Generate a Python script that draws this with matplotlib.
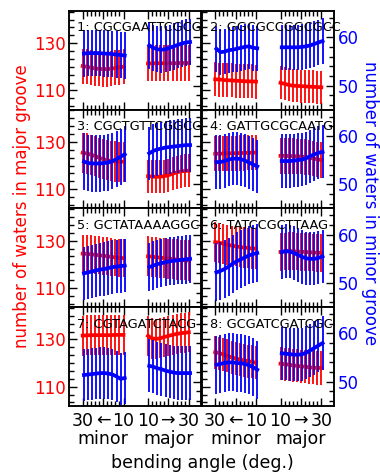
import matplotlib
matplotlib.use("Agg")
import matplotlib.pyplot as plt
from matplotlib.ticker import MultipleLocator, FixedLocator
import numpy as np

plt.rcParams['font.family'] = ['DejaVu Sans']

angles_minor = [30, 28, 26, 24, 22, 20, 18, 16, 14, 12, 10]
angles_major = [10, 12, 14, 16, 18, 20, 22, 24, 26, 28, 30]

labels = ["1: CGCGAATTCGCG", "2: GGCGCCGGCGCC", "3: CGCTGTTCGGCG", "4: GATTGCGCAATG",
          "5: GCTATAAAAGGC", "6: TATCCGCTTAAG", "7: CGTAGATCTACG", "8: GCGATCGATCGC"]

# waters in major groove (red), minor-groove bending segment (30 -> 10)
red_minor = [
    [120.3, 120.0, 119.6, 119.3, 119.1, 119.0, 119.0, 119.2, 119.5, 119.8, 120.0],
    [114.7, 114.6, 114.4, 114.3, 114.2, 114.1, 114.0, 113.9, 113.8, 113.8, 113.7],
    [125.4, 125.1, 124.6, 124.0, 123.3, 122.7, 122.2, 121.9, 121.7, 121.6, 121.6],
    [125.0, 125.0, 125.1, 125.1, 125.2, 125.2, 125.3, 125.3, 125.4, 125.4, 125.5],
    [124.5, 124.4, 124.2, 124.0, 123.8, 123.6, 123.4, 123.1, 122.9, 122.7, 122.6],
    [129.4, 129.1, 128.7, 128.3, 127.9, 127.6, 127.3, 127.1, 126.9, 126.7, 126.6],
    [131.6, 131.7, 131.8, 131.8, 131.8, 131.8, 131.8, 131.8, 131.9, 131.9, 131.9],
    [124.6, 124.2, 123.6, 123.0, 122.4, 121.9, 121.5, 121.1, 120.8, 120.5, 120.1],
]
# waters in major groove (red), major-groove bending segment (10 -> 30)
red_major = [
    [121.4, 121.4, 121.5, 121.5, 121.5, 121.5, 121.5, 121.5, 121.6, 121.6, 121.6],
    [113.2, 112.8, 112.3, 112.0, 111.9, 111.8, 111.7, 111.6, 111.5, 111.4, 111.3],
    [115.5, 115.3, 115.2, 115.3, 115.5, 115.9, 116.5, 117.1, 117.5, 117.7, 117.8],
    [124.1, 124.1, 124.0, 124.0, 123.9, 123.8, 123.6, 123.3, 123.0, 122.6, 122.3],
    [123.4, 123.2, 123.0, 122.8, 122.6, 122.4, 122.2, 122.0, 121.8, 121.7, 121.6],
    [125.2, 125.4, 125.6, 125.5, 125.4, 125.3, 125.2, 125.1, 125.0, 124.9, 124.8],
    [131.5, 130.4, 130.2, 130.5, 131.0, 131.5, 131.9, 132.3, 132.6, 132.8, 133.0],
    [119.7, 119.5, 119.3, 119.0, 118.8, 118.6, 118.4, 118.2, 118.0, 117.9, 117.9],
]
# waters in minor groove (blue)
blue_minor = [
    [56.6, 56.7, 56.7, 56.7, 56.7, 56.6, 56.6, 56.5, 56.4, 56.3, 56.2],
    [57.6, 56.9, 57.0, 57.3, 57.4, 57.6, 57.8, 58.0, 58.1, 57.8, 57.7],
    [54.7, 54.4, 54.3, 54.3, 54.3, 54.4, 54.5, 54.8, 55.2, 55.7, 56.2],
    [54.6, 54.6, 54.8, 55.1, 55.3, 55.3, 55.2, 54.9, 54.5, 54.1, 53.7],
    [52.0, 52.2, 52.4, 52.6, 52.8, 52.9, 53.1, 53.3, 53.4, 53.5, 53.6],
    [52.2, 52.5, 52.9, 53.4, 54.0, 54.5, 54.9, 55.3, 55.7, 56.0, 56.2],
    [51.4, 51.5, 51.6, 51.7, 51.8, 51.8, 51.7, 51.5, 51.1, 50.6, 50.8],
    [53.5, 53.7, 53.9, 54.0, 54.0, 53.9, 53.8, 53.7, 53.4, 53.0, 52.5],
]
blue_major = [
    [58.3, 57.8, 57.5, 57.4, 57.5, 57.8, 58.1, 58.4, 58.7, 58.9, 59.0],
    [57.9, 57.9, 57.9, 57.9, 57.9, 58.0, 58.1, 58.3, 58.6, 58.9, 59.2],
    [56.4, 56.9, 57.2, 57.4, 57.6, 57.7, 57.8, 57.9, 58.0, 58.1, 58.1],
    [54.8, 54.8, 54.8, 54.9, 55.0, 55.1, 55.4, 55.8, 56.2, 56.5, 56.7],
    [53.3, 53.6, 53.9, 54.1, 54.3, 54.5, 54.6, 54.7, 54.8, 54.9, 55.0],
    [56.4, 56.6, 56.5, 56.2, 55.8, 55.4, 55.1, 55.0, 55.0, 55.2, 55.5],
    [53.3, 53.1, 52.8, 52.6, 52.3, 52.1, 51.9, 51.8, 51.8, 51.8, 51.8],
    [55.9, 55.8, 55.7, 55.6, 55.6, 55.7, 56.0, 56.5, 57.0, 57.5, 58.0],
]
# standard deviations (minor segment, major segment)
red_err = [[7.4, 7.5], [7.2, 7.0], [8.5, 7.0], [7.5, 7.5], [8.0, 8.5], [8.5, 8.0], [8.5, 8.5], [7.0, 7.0]]
blue_err = [[4.8, 4.8], [4.7, 4.7], [5.8, 5.5], [5.5, 5.5], [5.5, 5.0], [6.0, 5.5], [5.3, 5.5], [6.0, 5.5]]

RED = '#ff0000'
BLUE = '#0000ff'

W, H = 380, 473
fig = plt.figure(figsize=(W / 100, H / 100), dpi=100)

left0, colw, top0, rowh = 69, 132.5, 11, 98.75

def pos_minor(a):
    return [30 - v for v in a]

def pos_major(a):
    return [32 + (v - 10) for v in a]

xm = pos_minor(angles_minor)
xM = pos_major(angles_major)
boff = 0.6

for i in range(8):
    r, c = divmod(i, 2)
    ax = fig.add_axes([(left0 + c * colw) / W, 1 - (top0 + (r + 1) * rowh) / H, colw / W, rowh / H])
    ax2 = ax.twinx()
    for seg_x, seg_y, e in ((xm, red_minor[i], red_err[i][0]), (xM, red_major[i], red_err[i][1])):
        ax.errorbar(seg_x, seg_y, yerr=e, fmt='-', color=RED, lw=2.7, elinewidth=1.3, capsize=0)
    for seg_x, seg_y, e in ((xm, blue_minor[i], blue_err[i][0]), (xM, blue_major[i], blue_err[i][1])):
        ax2.errorbar([v + boff for v in seg_x], seg_y, yerr=e, fmt='-', color=BLUE, lw=2.7, elinewidth=1.3, capsize=0)
    ax.set_xlim(-6.7, 58.2)
    ax.set_ylim(101.8, 143.6)
    ax2.set_ylim(45.0, 65.4)

    ax.xaxis.set_major_locator(FixedLocator([0, 10, 20, 32, 42, 52]))
    ax.xaxis.set_minor_locator(FixedLocator([2, 4, 6, 8, 12, 14, 16, 18, 34, 36, 38, 40, 44, 46, 48, 50]))
    ax.yaxis.set_major_locator(FixedLocator([110, 130]))
    ax.yaxis.set_minor_locator(MultipleLocator(20 / 6))
    ax2.yaxis.set_major_locator(FixedLocator([50, 60]))
    ax2.yaxis.set_minor_locator(MultipleLocator(2))

    ax.tick_params(axis='x', which='both', direction='in', top=True, bottom=True, labelbottom=(r == 3), labelsize=12.5, pad=4)
    ax.tick_params(axis='x', which='major', length=6, width=1)
    ax.tick_params(axis='x', which='minor', length=3.5, width=1)
    ax.tick_params(axis='y', which='both', direction='in', left=True, right=False, labelleft=(c == 0), labelcolor=RED, labelsize=12, pad=2)
    ax.tick_params(axis='y', which='major', length=6, width=1)
    ax.tick_params(axis='y', which='minor', length=3.5, width=1)
    ax2.tick_params(axis='y', which='both', direction='in', right=True, left=False, labelright=(c == 1), labelcolor=BLUE, labelsize=12, pad=3)
    ax2.tick_params(axis='y', which='major', length=6, width=1)
    ax2.tick_params(axis='y', which='minor', length=3.5, width=1)
    if r == 3:
        ax.set_xticklabels(['30', '\u2190', '10', '10', '\u2192', '30'])
        ax.text(10, -0.33, 'minor', transform=ax.get_xaxis_transform(), ha='center', va='center', fontsize=12.5)
        ax.text(42, -0.33, 'major', transform=ax.get_xaxis_transform(), ha='center', va='center', fontsize=12.5)
    for a in (ax, ax2):
        for s in a.spines.values():
            s.set_linewidth(1.1)
    ax2.text(0.062, 0.83, labels[i], transform=ax.transAxes, ha='left', va='center', fontsize=9.3)

fig.text(22 / W, 1 - 206 / H, 'number of waters in major groove', rotation=90, color=RED,
         ha='center', va='center', fontsize=12)
fig.text(370 / W, 1 - 203 / H, 'number of waters in minor groove', rotation=270, color=BLUE,
         ha='center', va='center', fontsize=12)
fig.text(202 / W, 1 - 463 / H, 'bending angle (deg.)', ha='center', va='center', fontsize=12.5)

fig.savefig('out.png', dpi=100)
